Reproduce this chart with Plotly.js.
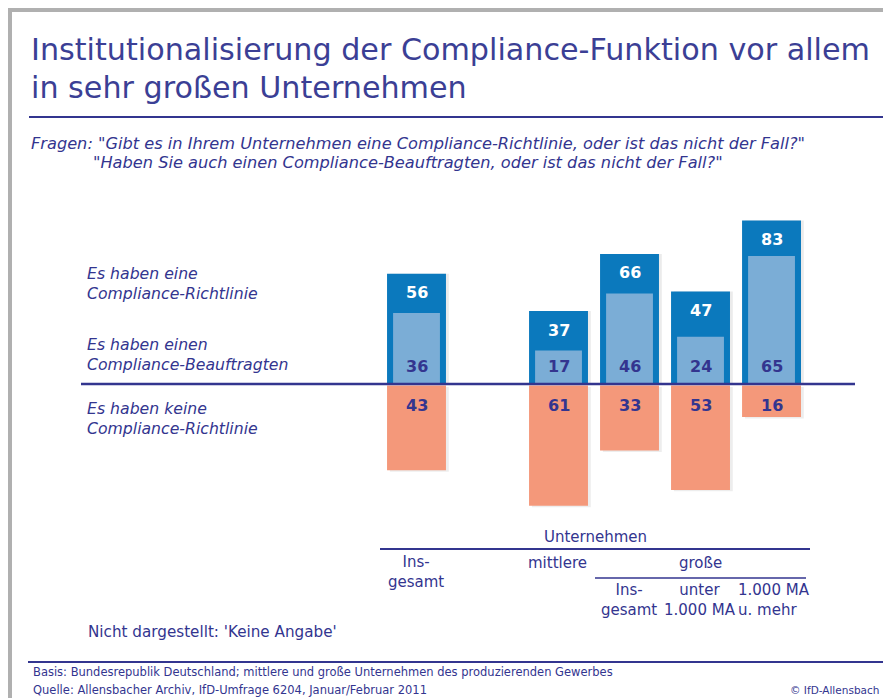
<!DOCTYPE html>
<html><head><meta charset="utf-8">
<script src="https://cdn.plot.ly/plotly-3.0.1.min.js"></script>
<style>html,body{margin:0;padding:0;background:#fff}#chart{width:883px;height:698px}</style>
</head><body><div id="chart"></div>
<script>
// ---- data ----
const categories = ['Insgesamt', 'mittlere', 'große – insgesamt', 'große – unter 1.000 MA', 'große – 1.000 MA u. mehr'];
const richtlinie = [56, 37, 66, 47, 83];       // Es haben eine Compliance-Richtlinie
const beauftragte = [36, 17, 46, 24, 65];      // Es haben einen Compliance-Beauftragten
const keineRichtlinie = [43, 61, 33, 53, 16];  // Es haben keine Compliance-Richtlinie
const seriesLabels = ['Es haben eine<br>Compliance-Richtlinie', 'Es haben einen<br>Compliance-Beauftragten', 'Es haben keine<br>Compliance-Richtlinie'];

// ---- style ----
const W = 883, H = 698;
const px = x => x / W, py = y => 1 - y / H;
const NAVY = '#33358f', TITLE = '#3b3f95';
const DARK = '#0b79bd', LIGHT = '#7badd6', SALMON = '#f4987a';
const FONT = 'DejaVu Sans';
const spacer = ' ';
const catOrder = [categories[0], spacer, ...categories.slice(1)];
const neg = keineRichtlinie.map(v => -v);

const traces = [
  {type:'bar', x:categories, y:richtlinie, width:0.83, offset:-0.415+0.04, marker:{color:'rgba(0,0,0,0.08)'}, hoverinfo:'skip'},
  {type:'bar', x:categories, y:neg, base:-1.5, width:0.83, offset:-0.415+0.04, marker:{color:'rgba(0,0,0,0.07)'}, hoverinfo:'skip'},
  {type:'bar', x:categories, y:richtlinie, width:0.83, offset:-0.415, marker:{color:DARK}, name:'Richtlinie'},
  {type:'bar', x:categories, y:beauftragte, width:0.66, offset:-0.33, marker:{color:LIGHT}, name:'Beauftragte'},
  {type:'bar', x:categories, y:neg, base:-0.8, width:0.83, offset:-0.415, marker:{color:SALMON}, name:'keine'}
];

const ann = [];
categories.forEach((c, i) => {
  ann.push({x:c, y:richtlinie[i], xref:'x', yref:'y', yshift:-19, text:String(richtlinie[i]), showarrow:false,
    font:{family:FONT, size:16, color:'#ffffff', weight:'bold'}});
  ann.push({x:c, y:0, xref:'x', yref:'y', yshift:18, text:String(beauftragte[i]), showarrow:false,
    font:{family:FONT, size:16, color:NAVY, weight:'bold'}});
  ann.push({x:c, y:0, xref:'x', yref:'y', yshift:-21, text:String(keineRichtlinie[i]), showarrow:false,
    font:{family:FONT, size:16, color:NAVY, weight:'bold'}});
});
const T = (x, y, text, size, opts={}) => Object.assign({xref:'paper', yref:'paper', x:px(x), y:py(y), text,
  showarrow:false, xanchor:'left', yanchor:'middle', align:'left', font:{family:FONT, size, color:NAVY}}, opts);

// title
ann.push(T(29, 50, 'Institutionalisierung der Compliance-Funktion vor allem', 30.2, {font:{family:FONT, size:30.2, color:TITLE}}));
ann.push(T(29, 88, 'in sehr großen Unternehmen', 30.2, {font:{family:FONT, size:30.2, color:TITLE}}));
// questions
ann.push(T(29, 143, '<i>Fragen: "Gibt es in Ihrem Unternehmen eine Compliance-Richtlinie, oder ist das nicht der Fall?"</i>', 16.2));
ann.push(T(91, 163, '<i>"Haben Sie auch einen Compliance-Beauftragten, oder ist das nicht der Fall?"</i>', 16.2));
// series labels
ann.push(T(85, 283, '<i>' + seriesLabels[0] + '</i>', 15.7));
ann.push(T(85, 354, '<i>' + seriesLabels[1] + '</i>', 15.7));
ann.push(T(85, 418, '<i>' + seriesLabels[2] + '</i>', 15.7));
// column header
const C = (x, y, text) => T(x, y, text, 15, {xanchor:'center', align:'center'});
ann.push(C(595, 537, 'Unternehmen'));
ann.push(C(416, 572, 'Ins-<br>gesamt'));
ann.push(C(557, 563, 'mittlere'));
ann.push(C(700, 563, 'große'));
ann.push(C(629, 600, 'Ins-<br>gesamt'));
ann.push(C(700, 600, 'unter<br>1.000 MA'));
ann.push(T(736, 600, '1.000 MA<br>u. mehr', 15));
ann.push(T(86, 632, "Nicht dargestellt: 'Keine Angabe'", 15.2));
// footer
ann.push(T(31, 672, 'Basis: Bundesrepublik Deutschland; mittlere und große Unternehmen des produzierenden Gewerbes', 11.5));
ann.push(T(31, 690, 'Quelle: Allensbacher Archiv, IfD-Umfrage 6204, Januar/Februar 2011', 11.5));
ann.push(T(881, 690, '© IfD-Allensbach', 10.5, {xanchor:'right', align:'right'}));

const L = (x0, y0, x1, y1, color, w) => ({type:'line', xref:'paper', yref:'paper', x0:px(x0), y0:py(y0), x1:px(x1), y1:py(y1), line:{color, width:w}});
const shapes = [
  L(10, 698, 10, 10, '#b0b0b0', 4),
  L(8, 10, 883, 10, '#b0b0b0', 4),
  L(29, 117, 883, 117, NAVY, 2),
  L(81, 384, 855, 384, NAVY, 2.5),
  L(380, 549, 810, 549, NAVY, 2),
  L(595, 578, 806, 578, NAVY, 1.5),
  L(28, 662, 883, 662, NAVY, 2)
];

const layout = {
  width: W, height: H, margin:{l:0, r:0, t:0, b:0}, paper_bgcolor:'#fff', plot_bgcolor:'rgba(0,0,0,0)',
  barmode:'overlay', showlegend:false,
  xaxis:{type:'category', categoryorder:'array', categoryarray:catOrder, range:[-5.866, 6.570],
    visible:false, fixedrange:true},
  yaxis:{range:[-(H-384)/1.97, 384/1.97], visible:false, fixedrange:true, zeroline:false},
  annotations: ann, shapes
};
Plotly.newPlot('chart', traces, layout, {staticPlot:true});
</script>
</body></html>
